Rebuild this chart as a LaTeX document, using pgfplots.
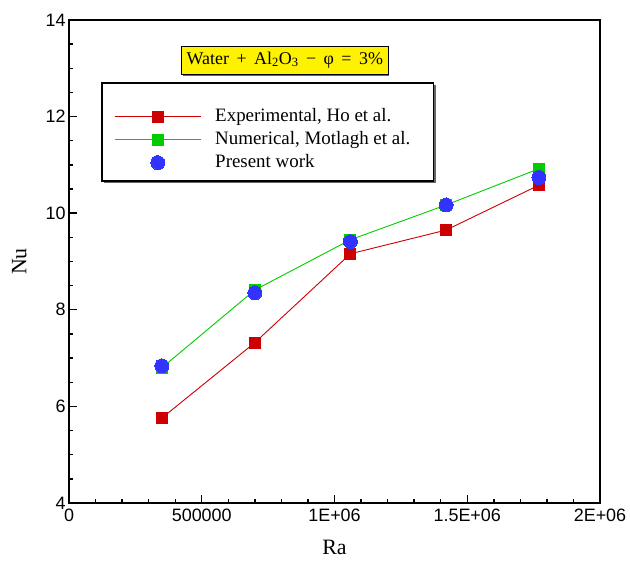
\documentclass[border=0pt]{standalone}
\usepackage{fontspec}
\setmainfont{Liberation Serif}
\newfontfamily\arial{Liberation Sans}
\usepackage{pgfplots}
\pgfplotsset{compat=1.18}
\usetikzlibrary{shadows}
\definecolor{cred}{RGB}{204,0,0}
\definecolor{cgreen}{RGB}{0,204,0}
\definecolor{cblue}{RGB}{51,51,255}
\pgfplotsset{
  linelegend/.style={legend image code/.code={\draw[mark repeat=2,mark phase=2,##1] plot coordinates {(0bp,0bp) (43bp,0bp) (86bp,0bp)};}},
  dotlegend/.style={legend image code/.code={\draw[##1] plot coordinates {(43bp,0bp)};}},
}
\begin{document}
\begin{tikzpicture}
\begin{axis}[
  scale only axis,
  width=531bp, height=483bp,
  xmin=0, xmax=2000000, ymin=4, ymax=14,
  xtick={0,500000,1000000,1500000,2000000},
  xticklabels={0,500000,1E+06,1.5E+06,2E+06},
  scaled x ticks=false,
  ytick={4,6,8,10,12,14},
  minor x tick num=4,
  minor y tick num=3,
  tick pos=left,
  tick align=inside,
  major tick length=8bp,
  minor tick length=4bp,
  every tick/.style={black, line width=1.4bp},
  axis line style={line width=1.6bp},
  /pgf/number format/assume math mode=true,
  tick label style={font=\arial\fontsize{18}{20}\selectfont},
  xticklabel style={yshift=-2bp},
  xlabel={Ra}, ylabel={Nu},
  label style={font=\fontsize{22}{25}\selectfont},
  xlabel style={yshift=-12bp},
  ylabel style={yshift=12bp},
  legend cell align=left,
  legend style={
    at={(rel axis cs:0.085,0.820)}, anchor=north west,
    draw=none, fill=none, inner sep=0pt,
    font=\fontsize{19}{23}\selectfont,
    nodes={text height=13bp, text depth=4bp, inner ysep=1bp},
    row sep=4bp, column sep=12bp,
  },
]
\addplot[linelegend, cred, line width=0.9bp, mark=square*, mark size=5.5bp, mark options={solid, fill=cred, line width=0pt}]
  coordinates {(350000,5.76) (700000,7.32) (1060000,9.16) (1420000,9.65) (1770000,10.58)};
\addlegendentry{Experimental, Ho et al.}
\addplot[linelegend, cgreen, line width=0.9bp, mark=square*, mark size=5.5bp, mark options={solid, fill=cgreen, line width=0pt}]
  coordinates {(350000,6.80) (700000,8.41) (1060000,9.45) (1420000,10.17) (1770000,10.92)};
\addlegendentry{Numerical, Motlagh et al.}
\addplot[dotlegend, only marks, mark=*, mark size=7bp, mark options={fill=cblue, draw=cblue, line width=0pt}]
  coordinates {(350000,6.84) (700000,8.35) (1060000,9.41) (1420000,10.17) (1770000,10.74)};
\addlegendentry{Present work}
\draw[fill=white, line width=1.2bp,
  drop shadow={shadow xshift=2bp, shadow yshift=-2bp, opacity=1, fill=black!60}]
  (rel axis cs:0.0621,0.8696) rectangle (rel axis cs:0.687,0.6667);
\node[fill=yellow, draw=black, line width=0.9bp, inner xsep=5bp, inner ysep=6bp,
  drop shadow={shadow xshift=1.5bp, shadow yshift=-1.5bp, opacity=1, fill=black!60},
  font=\fontsize{18}{21}\selectfont]
  at (axis cs:813000,13.17) {Water\, +\, Al\textsubscript{2}O\textsubscript{3}\, −\, φ\, =\, 3\%};
\end{axis}
\path ([shift={(-69bp,-58bp)}]current axis.south west) rectangle ([shift={(30bp,20bp)}]current axis.north east);
\end{tikzpicture}
\end{document}
